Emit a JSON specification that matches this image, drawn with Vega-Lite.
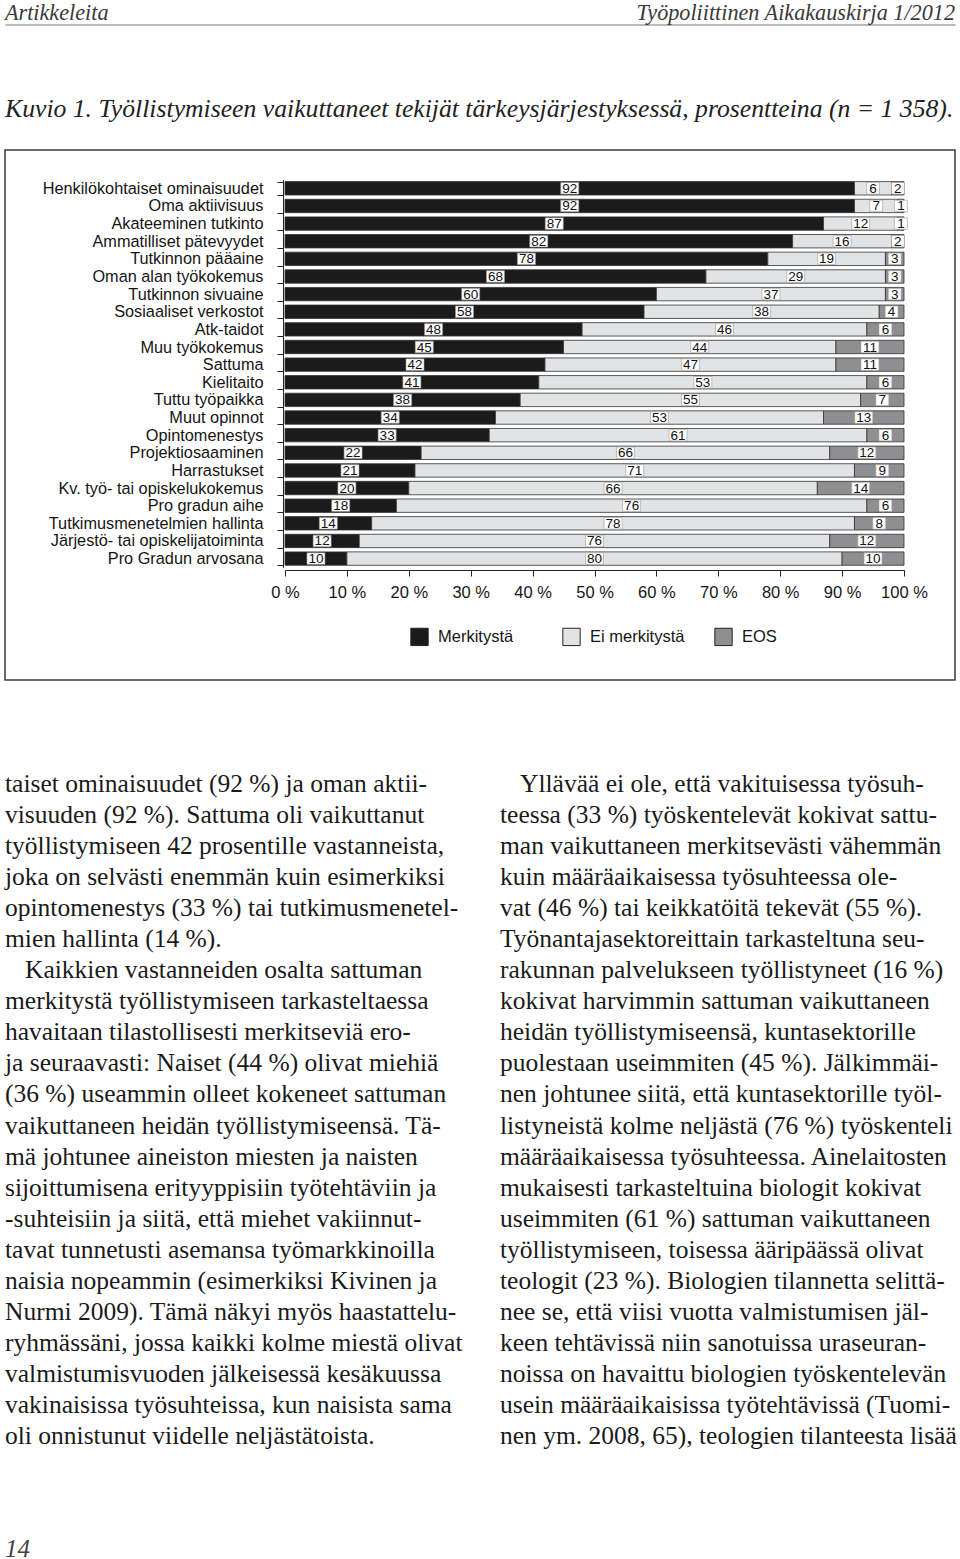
{
  "$schema": "https://vega.github.io/schema/vega-lite/v6.json",
  "padding": 0,
  "background": "white",
  "spacing": 0,
  "bounds": "flush",
  "center": true,
  "config": {"view": {"stroke": null}, "font": "Liberation Sans"},
  "datasets": {
    "kuvio": [
      {"tekija": "Henkilökohtaiset ominaisuudet", "luokka": "Merkitystä", "osuus": 92},
      {"tekija": "Henkilökohtaiset ominaisuudet", "luokka": "Ei merkitystä", "osuus": 6},
      {"tekija": "Henkilökohtaiset ominaisuudet", "luokka": "EOS", "osuus": 2},
      {"tekija": "Oma aktiivisuus", "luokka": "Merkitystä", "osuus": 92},
      {"tekija": "Oma aktiivisuus", "luokka": "Ei merkitystä", "osuus": 7},
      {"tekija": "Oma aktiivisuus", "luokka": "EOS", "osuus": 1},
      {"tekija": "Akateeminen tutkinto", "luokka": "Merkitystä", "osuus": 87},
      {"tekija": "Akateeminen tutkinto", "luokka": "Ei merkitystä", "osuus": 12},
      {"tekija": "Akateeminen tutkinto", "luokka": "EOS", "osuus": 1},
      {"tekija": "Ammatilliset pätevyydet", "luokka": "Merkitystä", "osuus": 82},
      {"tekija": "Ammatilliset pätevyydet", "luokka": "Ei merkitystä", "osuus": 16},
      {"tekija": "Ammatilliset pätevyydet", "luokka": "EOS", "osuus": 2},
      {"tekija": "Tutkinnon pääaine", "luokka": "Merkitystä", "osuus": 78},
      {"tekija": "Tutkinnon pääaine", "luokka": "Ei merkitystä", "osuus": 19},
      {"tekija": "Tutkinnon pääaine", "luokka": "EOS", "osuus": 3},
      {"tekija": "Oman alan työkokemus", "luokka": "Merkitystä", "osuus": 68},
      {"tekija": "Oman alan työkokemus", "luokka": "Ei merkitystä", "osuus": 29},
      {"tekija": "Oman alan työkokemus", "luokka": "EOS", "osuus": 3},
      {"tekija": "Tutkinnon sivuaine", "luokka": "Merkitystä", "osuus": 60},
      {"tekija": "Tutkinnon sivuaine", "luokka": "Ei merkitystä", "osuus": 37},
      {"tekija": "Tutkinnon sivuaine", "luokka": "EOS", "osuus": 3},
      {"tekija": "Sosiaaliset verkostot", "luokka": "Merkitystä", "osuus": 58},
      {"tekija": "Sosiaaliset verkostot", "luokka": "Ei merkitystä", "osuus": 38},
      {"tekija": "Sosiaaliset verkostot", "luokka": "EOS", "osuus": 4},
      {"tekija": "Atk-taidot", "luokka": "Merkitystä", "osuus": 48},
      {"tekija": "Atk-taidot", "luokka": "Ei merkitystä", "osuus": 46},
      {"tekija": "Atk-taidot", "luokka": "EOS", "osuus": 6},
      {"tekija": "Muu työkokemus", "luokka": "Merkitystä", "osuus": 45},
      {"tekija": "Muu työkokemus", "luokka": "Ei merkitystä", "osuus": 44},
      {"tekija": "Muu työkokemus", "luokka": "EOS", "osuus": 11},
      {"tekija": "Sattuma", "luokka": "Merkitystä", "osuus": 42},
      {"tekija": "Sattuma", "luokka": "Ei merkitystä", "osuus": 47},
      {"tekija": "Sattuma", "luokka": "EOS", "osuus": 11},
      {"tekija": "Kielitaito", "luokka": "Merkitystä", "osuus": 41},
      {"tekija": "Kielitaito", "luokka": "Ei merkitystä", "osuus": 53},
      {"tekija": "Kielitaito", "luokka": "EOS", "osuus": 6},
      {"tekija": "Tuttu työpaikka", "luokka": "Merkitystä", "osuus": 38},
      {"tekija": "Tuttu työpaikka", "luokka": "Ei merkitystä", "osuus": 55},
      {"tekija": "Tuttu työpaikka", "luokka": "EOS", "osuus": 7},
      {"tekija": "Muut opinnot", "luokka": "Merkitystä", "osuus": 34},
      {"tekija": "Muut opinnot", "luokka": "Ei merkitystä", "osuus": 53},
      {"tekija": "Muut opinnot", "luokka": "EOS", "osuus": 13},
      {"tekija": "Opintomenestys", "luokka": "Merkitystä", "osuus": 33},
      {"tekija": "Opintomenestys", "luokka": "Ei merkitystä", "osuus": 61},
      {"tekija": "Opintomenestys", "luokka": "EOS", "osuus": 6},
      {"tekija": "Projektiosaaminen", "luokka": "Merkitystä", "osuus": 22},
      {"tekija": "Projektiosaaminen", "luokka": "Ei merkitystä", "osuus": 66},
      {"tekija": "Projektiosaaminen", "luokka": "EOS", "osuus": 12},
      {"tekija": "Harrastukset", "luokka": "Merkitystä", "osuus": 21},
      {"tekija": "Harrastukset", "luokka": "Ei merkitystä", "osuus": 71},
      {"tekija": "Harrastukset", "luokka": "EOS", "osuus": 9},
      {"tekija": "Kv. työ- tai opiskelukokemus", "luokka": "Merkitystä", "osuus": 20},
      {"tekija": "Kv. työ- tai opiskelukokemus", "luokka": "Ei merkitystä", "osuus": 66},
      {"tekija": "Kv. työ- tai opiskelukokemus", "luokka": "EOS", "osuus": 14},
      {"tekija": "Pro gradun aihe", "luokka": "Merkitystä", "osuus": 18},
      {"tekija": "Pro gradun aihe", "luokka": "Ei merkitystä", "osuus": 76},
      {"tekija": "Pro gradun aihe", "luokka": "EOS", "osuus": 6},
      {"tekija": "Tutkimusmenetelmien hallinta", "luokka": "Merkitystä", "osuus": 14},
      {"tekija": "Tutkimusmenetelmien hallinta", "luokka": "Ei merkitystä", "osuus": 78},
      {"tekija": "Tutkimusmenetelmien hallinta", "luokka": "EOS", "osuus": 8},
      {"tekija": "Järjestö- tai opiskelijatoiminta", "luokka": "Merkitystä", "osuus": 12},
      {"tekija": "Järjestö- tai opiskelijatoiminta", "luokka": "Ei merkitystä", "osuus": 76},
      {"tekija": "Järjestö- tai opiskelijatoiminta", "luokka": "EOS", "osuus": 12},
      {"tekija": "Pro Gradun arvosana", "luokka": "Merkitystä", "osuus": 10},
      {"tekija": "Pro Gradun arvosana", "luokka": "Ei merkitystä", "osuus": 80},
      {"tekija": "Pro Gradun arvosana", "luokka": "EOS", "osuus": 10}
    ],
    "teksti": [
      {"palsta": "vasen", "rivi": 1, "kappaleAlkaa": false, "teksti": "taiset ominaisuudet (92 %) ja oman aktii-"},
      {"palsta": "vasen", "rivi": 2, "kappaleAlkaa": false, "teksti": "visuuden (92 %). Sattuma oli vaikuttanut"},
      {"palsta": "vasen", "rivi": 3, "kappaleAlkaa": false, "teksti": "työllistymiseen 42 prosentille vastanneista,"},
      {"palsta": "vasen", "rivi": 4, "kappaleAlkaa": false, "teksti": "joka on selvästi enemmän kuin esimerkiksi"},
      {"palsta": "vasen", "rivi": 5, "kappaleAlkaa": false, "teksti": "opintomenestys (33 %) tai tutkimusmenetel-"},
      {"palsta": "vasen", "rivi": 6, "kappaleAlkaa": false, "teksti": "mien hallinta (14 %)."},
      {"palsta": "vasen", "rivi": 7, "kappaleAlkaa": true, "teksti": "Kaikkien vastanneiden osalta sattuman"},
      {"palsta": "vasen", "rivi": 8, "kappaleAlkaa": false, "teksti": "merkitystä työllistymiseen tarkasteltaessa"},
      {"palsta": "vasen", "rivi": 9, "kappaleAlkaa": false, "teksti": "havaitaan tilastollisesti merkitseviä ero-"},
      {"palsta": "vasen", "rivi": 10, "kappaleAlkaa": false, "teksti": "ja seuraavasti: Naiset (44 %) olivat miehiä"},
      {"palsta": "vasen", "rivi": 11, "kappaleAlkaa": false, "teksti": "(36 %) useammin olleet kokeneet sattuman"},
      {"palsta": "vasen", "rivi": 12, "kappaleAlkaa": false, "teksti": "vaikuttaneen heidän työllistymiseensä. Tä-"},
      {"palsta": "vasen", "rivi": 13, "kappaleAlkaa": false, "teksti": "mä johtunee aineiston miesten ja naisten"},
      {"palsta": "vasen", "rivi": 14, "kappaleAlkaa": false, "teksti": "sijoittumisena erityyppisiin työtehtäviin ja"},
      {"palsta": "vasen", "rivi": 15, "kappaleAlkaa": false, "teksti": "-suhteisiin ja siitä, että miehet vakiinnut-"},
      {"palsta": "vasen", "rivi": 16, "kappaleAlkaa": false, "teksti": "tavat tunnetusti asemansa työmarkkinoilla"},
      {"palsta": "vasen", "rivi": 17, "kappaleAlkaa": false, "teksti": "naisia nopeammin (esimerkiksi Kivinen ja"},
      {"palsta": "vasen", "rivi": 18, "kappaleAlkaa": false, "teksti": "Nurmi 2009). Tämä näkyi myös haastattelu-"},
      {"palsta": "vasen", "rivi": 19, "kappaleAlkaa": false, "teksti": "ryhmässäni, jossa kaikki kolme miestä olivat"},
      {"palsta": "vasen", "rivi": 20, "kappaleAlkaa": false, "teksti": "valmistumisvuoden jälkeisessä kesäkuussa"},
      {"palsta": "vasen", "rivi": 21, "kappaleAlkaa": false, "teksti": "vakinaisissa työsuhteissa, kun naisista sama"},
      {"palsta": "vasen", "rivi": 22, "kappaleAlkaa": false, "teksti": "oli onnistunut viidelle neljästätoista."},
      {"palsta": "oikea", "rivi": 1, "kappaleAlkaa": true, "teksti": "Yllävää ei ole, että vakituisessa työsuh-"},
      {"palsta": "oikea", "rivi": 2, "kappaleAlkaa": false, "teksti": "teessa (33 %) työskentelevät kokivat sattu-"},
      {"palsta": "oikea", "rivi": 3, "kappaleAlkaa": false, "teksti": "man vaikuttaneen merkitsevästi vähemmän"},
      {"palsta": "oikea", "rivi": 4, "kappaleAlkaa": false, "teksti": "kuin määräaikaisessa työsuhteessa ole-"},
      {"palsta": "oikea", "rivi": 5, "kappaleAlkaa": false, "teksti": "vat (46 %) tai keikkatöitä tekevät (55 %)."},
      {"palsta": "oikea", "rivi": 6, "kappaleAlkaa": false, "teksti": "Työnantajasektoreittain tarkasteltuna seu-"},
      {"palsta": "oikea", "rivi": 7, "kappaleAlkaa": false, "teksti": "rakunnan palvelukseen työllistyneet (16 %)"},
      {"palsta": "oikea", "rivi": 8, "kappaleAlkaa": false, "teksti": "kokivat harvimmin sattuman vaikuttaneen"},
      {"palsta": "oikea", "rivi": 9, "kappaleAlkaa": false, "teksti": "heidän työllistymiseensä, kuntasektorille"},
      {"palsta": "oikea", "rivi": 10, "kappaleAlkaa": false, "teksti": "puolestaan useimmiten (45 %). Jälkimmäi-"},
      {"palsta": "oikea", "rivi": 11, "kappaleAlkaa": false, "teksti": "nen johtunee siitä, että kuntasektorille työl-"},
      {"palsta": "oikea", "rivi": 12, "kappaleAlkaa": false, "teksti": "listyneistä kolme neljästä (76 %) työskenteli"},
      {"palsta": "oikea", "rivi": 13, "kappaleAlkaa": false, "teksti": "määräaikaisessa työsuhteessa. Ainelaitosten"},
      {"palsta": "oikea", "rivi": 14, "kappaleAlkaa": false, "teksti": "mukaisesti tarkasteltuina biologit kokivat"},
      {"palsta": "oikea", "rivi": 15, "kappaleAlkaa": false, "teksti": "useimmiten (61 %) sattuman vaikuttaneen"},
      {"palsta": "oikea", "rivi": 16, "kappaleAlkaa": false, "teksti": "työllistymiseen, toisessa ääripäässä olivat"},
      {"palsta": "oikea", "rivi": 17, "kappaleAlkaa": false, "teksti": "teologit (23 %). Biologien tilannetta selittä-"},
      {"palsta": "oikea", "rivi": 18, "kappaleAlkaa": false, "teksti": "nee se, että viisi vuotta valmistumisen jäl-"},
      {"palsta": "oikea", "rivi": 19, "kappaleAlkaa": false, "teksti": "keen tehtävissä niin sanotuissa uraseuran-"},
      {"palsta": "oikea", "rivi": 20, "kappaleAlkaa": false, "teksti": "noissa on havaittu biologien työskentelevän"},
      {"palsta": "oikea", "rivi": 21, "kappaleAlkaa": false, "teksti": "usein määräaikaisissa työtehtävissä (Tuomi-"},
      {"palsta": "oikea", "rivi": 22, "kappaleAlkaa": false, "teksti": "nen ym. 2008, 65), teologien tilanteesta lisää"}
    ]
  },
  "vconcat": [
    {
      "width": 960,
      "height": 150,
      "encoding": {
        "x": {"field": "osa", "type": "nominal", "scale": {"type": "point", "domain": ["vasen", "oikea"], "range": [5, 955], "padding": 0}, "axis": {"orient": "top", "offset": -24.5, "labels": false, "ticks": false, "title": null, "grid": false, "domainColor": "#777777", "domainWidth": 1.2}},
        "y": {"field": "rivi", "type": "nominal", "scale": {"type": "point", "domain": ["ylätunniste", "kuvateksti"], "range": [19.8, 117], "padding": 0}, "axis": null},
        "text": {"field": "teksti", "type": "nominal"}
      },
      "layer": [
        {
          "data": {"values": [{"rivi": "ylätunniste", "osa": "vasen", "teksti": "Artikkeleita"}]},
          "mark": {"type": "text", "align": "left", "baseline": "alphabetic", "font": "Liberation Serif", "fontStyle": "italic", "fontSize": 22.2, "color": "#3a3a3a"}
        },
        {
          "data": {"values": [{"rivi": "ylätunniste", "osa": "oikea", "teksti": "Työpoliittinen Aikakauskirja 1/2012"}]},
          "mark": {"type": "text", "align": "right", "baseline": "alphabetic", "font": "Liberation Serif", "fontStyle": "italic", "fontSize": 22.2, "color": "#3a3a3a"}
        },
        {
          "data": {"values": [{"rivi": "kuvateksti", "osa": "vasen", "teksti": "Kuvio 1. Työllistymiseen vaikuttaneet tekijät tärkeysjärjestyksessä, prosentteina (n = 1 358)."}]},
          "mark": {"type": "text", "align": "left", "baseline": "alphabetic", "font": "Liberation Serif", "fontStyle": "italic", "fontSize": 25.7, "color": "#222222"}
        }
      ]
    },
    {
      "width": 950,
      "height": 530,
      "view": {"stroke": "#3a3a3a", "strokeWidth": 1.5},
      "data": {"name": "kuvio"},
      "transform": [
        {"stack": "osuus", "groupby": ["tekija"], "sort": [{"field": "luokka", "order": "descending"}], "as": ["alku", "loppu"]},
        {"calculate": "(datum.alku + datum.loppu) / 2", "as": "keski"}
      ],
      "encoding": {
        "y": {
          "field": "tekija", "type": "nominal", "sort": null,
          "scale": {"range": [29.5, 417.4], "paddingInner": 0.24, "paddingOuter": 0.12},
          "axis": {"orient": "left", "offset": -278, "title": null, "tickBand": "extent", "tickSize": 6, "tickColor": "#222222", "domainColor": "#222222", "labelPadding": 14, "labelFont": "Liberation Sans", "labelFontSize": 16.3, "labelColor": "#151515", "labelLimit": 320, "grid": false}
        }
      },
      "layer": [
        {
          "mark": {"type": "bar", "stroke": "#333333", "strokeWidth": 0.8},
          "encoding": {
            "x": {
              "field": "alku", "type": "quantitative",
              "scale": {"domain": [0, 100], "range": [280, 899], "nice": false, "zero": false, "clamp": true},
              "axis": {"orient": "bottom", "offset": -110, "title": null, "values": [0, 10, 20, 30, 40, 50, 60, 70, 80, 90, 100], "labelExpr": "datum.value + ' %'", "tickSize": 6, "labelPadding": 8, "labelFont": "Liberation Sans", "labelFontSize": 16.5, "labelColor": "#151515", "labelFlush": false, "grid": false, "domainColor": "#222222", "tickColor": "#222222"}
            },
            "x2": {"field": "loppu"},
            "color": {
              "field": "luokka", "type": "nominal",
              "scale": {"domain": ["Merkitystä", "Ei merkitystä", "EOS"], "range": ["#1c1b1c", "#e2e3e5", "#8f8f91"]},
              "legend": {"orient": "none", "legendX": 410, "legendY": 627, "direction": "horizontal", "title": null, "symbolType": "square", "symbolSize": 300, "symbolStrokeColor": "#222222", "symbolStrokeWidth": 1, "symbolOpacity": 1, "labelFont": "Liberation Sans", "labelFontSize": 16.5, "labelColor": "#151515", "labelOffset": 9, "columnPadding": 27, "gridAlign": "all", "padding": 0}
            }
          }
        },
        {
          "mark": {"type": "point", "filled": true, "fill": "white", "stroke": "#9a9a9a", "strokeWidth": 0.6, "opacity": 1, "size": 324},
          "encoding": {
            "x": {"field": "keski", "type": "quantitative"},
            "shape": {"condition": {"test": "datum.osuus >= 10", "value": "M-1,-0.64H1V0.64H-1Z"}, "value": "M-0.72,-0.64H0.72V0.64H-0.72Z"}
          }
        },
        {
          "mark": {"type": "text", "font": "Liberation Sans", "fontSize": 13.5, "color": "#111111", "baseline": "middle", "dy": 0.5},
          "encoding": {
            "x": {"field": "keski", "type": "quantitative"},
            "text": {"field": "osuus", "type": "quantitative"}
          }
        }
      ]
    },
    {
      "width": 960,
      "height": 858,
      "data": {"name": "teksti"},
      "encoding": {
        "x": {"field": "palsta", "type": "nominal", "scale": {"type": "point", "domain": ["vasen", "oikea"], "range": [5, 500], "padding": 0}, "axis": null},
        "y": {"field": "rivi", "type": "ordinal", "scale": {"type": "point", "range": [112, 764], "padding": 0}, "axis": null},
        "text": {"field": "teksti", "type": "nominal"}
      },
      "layer": [
        {
          "transform": [{"filter": "!datum.kappaleAlkaa"}],
          "mark": {"type": "text", "align": "left", "baseline": "alphabetic", "font": "Liberation Serif", "fontSize": 25.5, "color": "#1a1a1a"}
        },
        {
          "transform": [{"filter": "datum.kappaleAlkaa"}],
          "mark": {"type": "text", "align": "left", "baseline": "alphabetic", "font": "Liberation Serif", "fontSize": 25.5, "color": "#1a1a1a", "dx": 20}
        }
      ]
    },
    {
      "width": 960,
      "height": 21,
      "data": {"values": [{"palsta": "vasen", "rivi": "sivunumero", "teksti": "14"}]},
      "mark": {"type": "text", "align": "left", "baseline": "alphabetic", "font": "Liberation Serif", "fontStyle": "italic", "fontSize": 25, "color": "#444444"},
      "encoding": {
        "x": {"field": "palsta", "type": "nominal", "scale": {"type": "point", "domain": ["vasen", "oikea"], "range": [5, 500], "padding": 0}, "axis": null},
        "y": {"field": "rivi", "type": "nominal", "scale": {"type": "point", "domain": ["sivunumero"], "range": [19, 19], "padding": 0}, "axis": null},
        "text": {"field": "teksti", "type": "nominal"}
      }
    }
  ]
}
